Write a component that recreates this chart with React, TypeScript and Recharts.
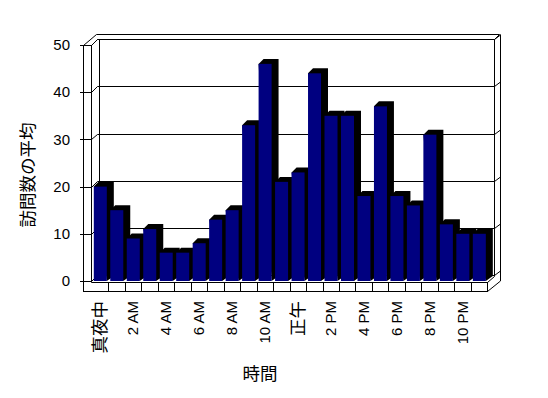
import React from "react";
import { BarChart, Bar, XAxis, YAxis, CartesianGrid } from "recharts";

const hours = [
  "真夜中", "1 AM", "2 AM", "3 AM", "4 AM", "5 AM", "6 AM", "7 AM", "8 AM", "9 AM", "10 AM", "11 AM",
  "正午", "1 PM", "2 PM", "3 PM", "4 PM", "5 PM", "6 PM", "7 PM", "8 PM", "9 PM", "10 PM", "11 PM",
];
const visits = [20, 15, 9, 11, 6, 6, 8, 13, 15, 33, 46, 21, 23, 44, 35, 35, 18, 37, 18, 16, 31, 12, 10, 10];
const yTicks = [0, 10, 20, 30, 40, 50];
const yTitle = "訪問数の平均";
const xTitle = "時間";

const data = hours.map((h, i) => ({ hour: h, visits: visits[i] }));

const W = 548;
const H = 398;
const PLOT_LEFT = 91.8;
const PLOT_RIGHT = 487.3;
const PLOT_TOP = 45;
const PLOT_BOTTOM = 281;
const CAT_W = (PLOT_RIGHT - PLOT_LEFT) / hours.length;
const DY = 5.7;
const FONT = '"Liberation Sans", Arial, "Noto Sans CJK JP", sans-serif';

const Bar3D = (p: any) => {
  const { x, y, width: w, height: h } = p;
  if (!h || h <= 0) return null;
  const pts = `${x},${y} ${x + 5},${y - 5} ${x + w + 7},${y - 5} ${x + w + 7},${y + h - 5} ${x + w},${y + h}`;
  return (
    <g>
      <polygon points={pts} fill="#000000" />
      <rect x={x} y={y} width={w} height={h} fill="#000080" />
    </g>
  );
};

const gridLine = (p: any) => {
  const y = Math.round(p.y1) + 0.5;
  const yb = Math.round(p.y1 - DY) + 0.5;
  const pts = `80,${y} 91.5,${y} 97.5,${yb} 494.5,${yb} 500.5,${yb - 4.5}`;
  return <polyline key={p.key ?? `g${p.index}`} points={pts} fill="none" stroke="#000" strokeWidth={1} />;
};

const isCJK = (s: string) => /[\u3000-\u9fff]/.test(s);

const XTick = (p: any) => {
  const { x, payload, index } = p;
  const i = payload?.index ?? index;
  const bx = Math.round(x + CAT_W / 2) + 0.5;
  const label = String(payload.value);
  return (
    <g>
      <line x1={bx} y1={282.5} x2={bx} y2={291.5} stroke="#000" strokeWidth={1} />
      {i % 2 === 0 ? (
        <text
          transform={`translate(${x},301) rotate(-90)`}
          textAnchor="end"
          dy="0.35em"
          fontSize={isCJK(label) ? 17.5 : 15}
          fontFamily={FONT}
          fill="#000"
        >
          {label}
        </text>
      ) : null}
    </g>
  );
};

const YTick = (p: any) => {
  const { y, payload } = p;
  return (
    <text x={70} y={y} textAnchor="end" dy="0.35em" fontSize={15} fontFamily={FONT} fill="#000">
      {payload.value}
    </text>
  );
};

export default function App() {
  return (
    <div style={{ position: "absolute", left: 0, top: 0, width: W, height: H, background: "#fff" }}>
      <svg width={W} height={H} style={{ position: "absolute", left: 0, top: 0 }}>
        <g stroke="#000" strokeWidth={1} fill="none">
          <line x1={83.5} y1={45} x2={83.5} y2={292} />
          <line x1={91.5} y1={45} x2={91.5} y2={282.5} />
          <line x1={83.5} y1={45.5} x2={91.5} y2={45.5} />
          <line x1={83.5} y1={45.5} x2={96.5} y2={34.5} />
          <line x1={91.5} y1={45.5} x2={97.5} y2={39.5} />
          <line x1={96.5} y1={34.5} x2={499.5} y2={34.5} />
          <line x1={97.5} y1={39.5} x2={494.5} y2={39.5} />
          <line x1={99.5} y1={39.5} x2={99.5} y2={276} />
          <line x1={494.5} y1={39.5} x2={494.5} y2={276.5} />
          <line x1={499.5} y1={34.5} x2={494.5} y2={39.5} />
          <line x1={500.5} y1={34.5} x2={500.5} y2={281} />
          <line x1={83.5} y1={291.5} x2={488} y2={291.5} />
          <line x1={91.5} y1={282.5} x2={488} y2={282.5} />
          <line x1={487.5} y1={282.5} x2={487.5} y2={291.5} />
          <line x1={487.5} y1={291.5} x2={500.5} y2={281} />
          <line x1={487.5} y1={282.5} x2={494.5} y2={276.5} />
        </g>
        <text
          transform="translate(28,175) rotate(-90)"
          textAnchor="middle"
          dy="0.35em"
          fontSize={17.5}
          fontFamily={FONT}
          fill="#000"
        >
          {yTitle}
        </text>
        <text x={260} y={374} textAnchor="middle" dy="0.35em" fontSize={17.5} fontFamily={FONT} fill="#000">
          {xTitle}
        </text>
      </svg>
      <div style={{ position: "absolute", left: 0, top: 0 }}>
        <BarChart
          width={W}
          height={H}
          data={data}
          margin={{ top: PLOT_TOP, right: W - PLOT_RIGHT, bottom: H - PLOT_BOTTOM - 30, left: PLOT_LEFT - 60 }}
          barSize={13}
        >
          <CartesianGrid vertical={false} horizontal={gridLine} fill="none" />
          <XAxis
            dataKey="hour"
            interval={0}
            axisLine={false}
            tickLine={false}
            height={30}
            tick={<XTick />}
          />
          <YAxis
            type="number"
            domain={[0, 50]}
            ticks={yTicks}
            width={60}
            axisLine={false}
            tickLine={false}
            tick={<YTick />}
          />
          <Bar dataKey="visits" shape={<Bar3D />} isAnimationActive={false} />
        </BarChart>
      </div>
    </div>
  );
}
